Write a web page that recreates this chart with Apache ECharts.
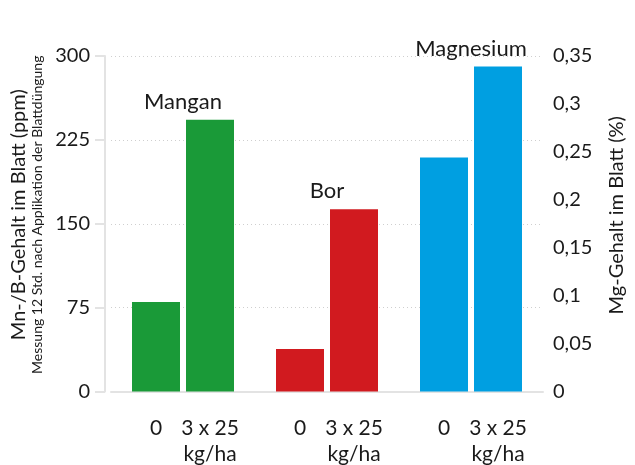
<!DOCTYPE html>
<html>
<head>
<meta charset="utf-8">
<script src="https://cdn.jsdelivr.net/npm/echarts@6/dist/echarts.min.js"></script>
<style>html,body{margin:0;padding:0;background:#fff}#c{width:635px;height:465px}</style>
</head>
<body>
<div id="c"></div>
<script>
var groups = ['Mangan', 'Bor', 'Magnesium'];
var doseLabels = ['0', '3 x 25', 'kg/ha'];
var mnbControl = [80, 38, '-'];
var mnbTreated = [243, 163, '-'];
var mgControl = ['-', '-', 0.244];
var mgTreated = ['-', '-', 0.339];
var leftTicks = [0, 75, 150, 225, 300];
var rightTicks = [0, 0.05, 0.1, 0.15, 0.2, 0.25, 0.3, 0.35];
var colors = ['#1a9a38', '#d11a1f', '#009fe1'];

var FONT = 'Lato';
var chart = echarts.init(document.getElementById('c'), null, {renderer: 'canvas'});

function colorFn(p) { return colors[p.dataIndex]; }

var option = {
  animation: false,
  textStyle: {fontFamily: FONT},
  grid: {left: 111, right: 84, top: 56, bottom: 72},
  xAxis: {
    type: 'category',
    data: groups,
    axisLine: {show: true, lineStyle: {color: '#e3e3e3', width: 2}},
    axisTick: {show: false},
    axisLabel: {
      margin: 24,
      formatter: function () {
        return '{z|' + doseLabels[0] + '}{t|' + doseLabels[1] + '}\n{z| }{t|' + doseLabels[2] + '}';
      },
      rich: {
        z: {width: 54, align: 'center', fontSize: 21, color: '#1a1a1a', fontFamily: FONT, lineHeight: 26},
        t: {width: 54, align: 'center', fontSize: 21, color: '#1a1a1a', fontFamily: FONT, lineHeight: 26}
      }
    }
  },
  yAxis: [{
    type: 'value',
    min: 0, max: 300, interval: 75,
    offset: 6,
    axisLine: {show: true, lineStyle: {color: '#e3e3e3', width: 2}},
    axisTick: {show: true, length: 10, lineStyle: {color: '#e3e3e3', width: 2}},
    axisLabel: {
      margin: 15, fontSize: 20, color: '#1a1a1a', fontFamily: FONT, padding: [0, 0, 6, 0],
      formatter: function (v) { return leftTicks.indexOf(v) >= 0 ? String(v) : ''; }
    },
    splitLine: {show: true, lineStyle: {color: '#cfcfcf', type: [1, 3], width: 1}},
    name: '{a|Mn-/B-Gehalt im Blatt (ppm)}\n{b|Messung 12 Std. nach Applikation der Blattdüngung}',
    nameLocation: 'middle',
    nameRotate: 90,
    nameGap: 58,
    nameTextStyle: {
      padding: [0, 0, 0, 18],
      rich: {
        a: {fontSize: 20, color: '#1a1a1a', fontFamily: FONT, lineHeight: 21},
        b: {fontSize: 14, color: '#1a1a1a', fontFamily: FONT, lineHeight: 16}
      }
    }
  }, {
    type: 'value',
    min: 0, max: 0.35, interval: 0.05,
    position: 'right',
    axisLine: {show: false},
    axisTick: {show: false},
    splitLine: {show: false},
    axisLabel: {
      margin: 10, fontSize: 20, color: '#1a1a1a', fontFamily: FONT, padding: [0, 0, 6, 0],
      formatter: function (v) {
        var r = Math.round(v * 100) / 100;
        return String(r).replace('.', ',');
      }
    },
    name: 'Mg-Gehalt im Blatt (%)',
    nameLocation: 'middle',
    nameRotate: 90,
    nameGap: 64,
    nameTextStyle: {fontSize: 20, color: '#1a1a1a', fontFamily: FONT, padding: [0, 0, 0, 17]}
  }],
  series: [{
    type: 'bar', name: 'mnb0', yAxisIndex: 0, stack: 'a',
    data: mnbControl, barWidth: 48, barGap: '12.5%',
    itemStyle: {color: colorFn}
  }, {
    type: 'bar', name: 'mnb1', yAxisIndex: 0, stack: 'b',
    data: mnbTreated, barWidth: 48, barGap: '12.5%',
    itemStyle: {color: colorFn},
    label: {
      show: true, position: 'top', distance: 7, offset: [-27, 0],
      fontSize: 22, color: '#1a1a1a', fontFamily: FONT,
      formatter: function (p) { return groups[p.dataIndex]; }
    }
  }, {
    type: 'bar', name: 'mg0', yAxisIndex: 1, stack: 'a',
    data: mgControl, barWidth: 48, barGap: '12.5%',
    itemStyle: {color: colorFn}
  }, {
    type: 'bar', name: 'mg1', yAxisIndex: 1, stack: 'b',
    data: mgTreated, barWidth: 48, barGap: '12.5%',
    itemStyle: {color: colorFn},
    label: {
      show: true, position: 'top', distance: 7, offset: [-27, 0],
      fontSize: 22, color: '#1a1a1a', fontFamily: FONT,
      formatter: function (p) { return groups[p.dataIndex]; }
    }
  }]
};
chart.setOption(option);
</script>
</body>
</html>
